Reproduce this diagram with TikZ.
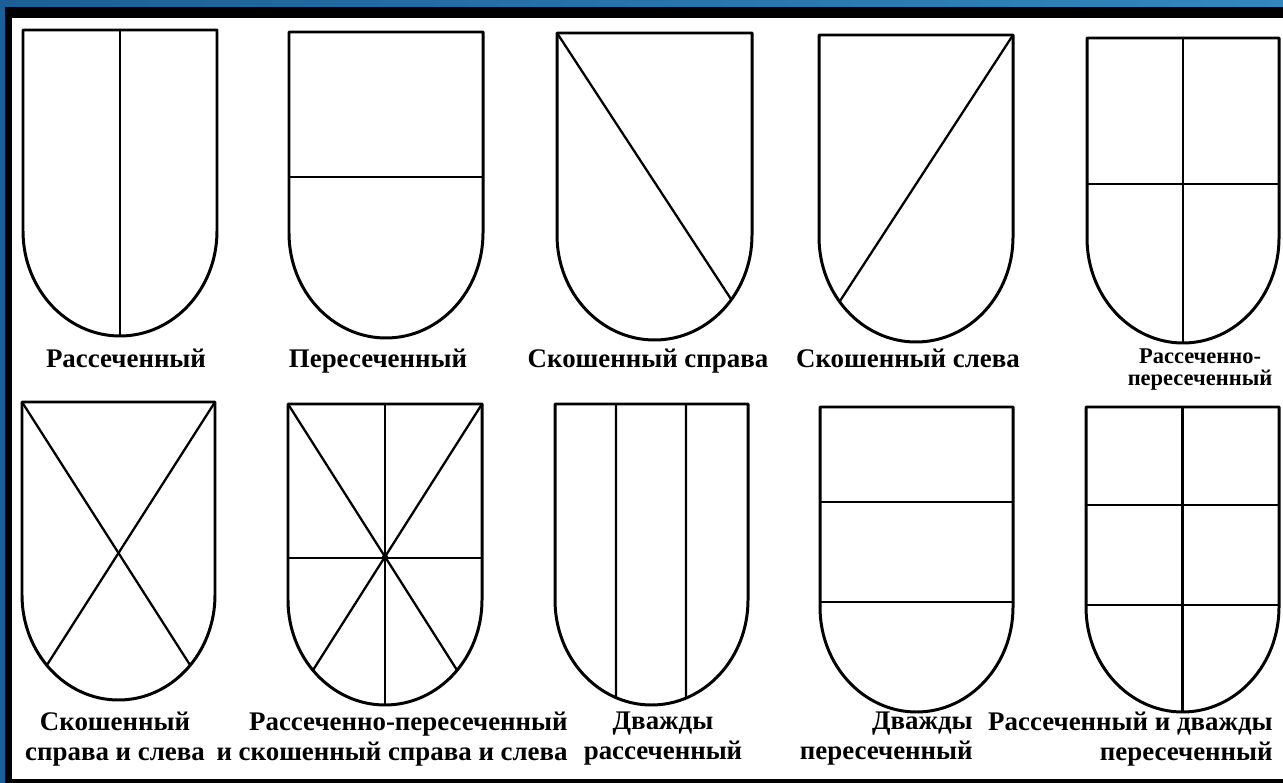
\documentclass[tikz,border=0pt]{standalone}
\usepackage{fontspec}
\setmainfont{Liberation Serif}
\usetikzlibrary{calc}

\definecolor{frameblue}{RGB}{50,135,190}
\definecolor{framedeep}{RGB}{28,95,150}

% shield outline: left, right, top, bottom
\newcommand{\escutcheon}[4]{(#1,#3) -- (#2,#3) -- (#2,#4-105)
  arc[start angle=0, end angle=180, x radius={(#2-#1)/2}, y radius=105] -- cycle}

\begin{document}
\begin{tikzpicture}[x=0.02cm, y=-0.02cm, line join=round,
  shield/.style={line width=1.7pt},
  division/.style={line width=1.3pt},
  caption/.style={font=\bfseries\fontsize{15.3}{17}\selectfont, inner sep=0pt},
  smallcaption/.style={font=\bfseries\fontsize{12.8}{12.5}\selectfont, inner sep=0pt}]
  \useasboundingbox (0,0) rectangle (1283,783);
  % frame
  \shade[left color=framedeep, right color=frameblue] (0,0) rectangle (1283,783);
  \fill (5,7) rectangle (1283,783);
  \fill[white] (12,18) rectangle (1283,779);

  % top row
  \draw[shield] \escutcheon{23}{217}{30}{336};
  \draw[division] (120,30) -- (120,336);

  \draw[shield] \escutcheon{289}{483}{32}{338};
  \draw[division] (289,177) -- (483,177);

  \draw[shield] \escutcheon{557}{752}{33}{340};
  \coordinate (d3) at ($(654.5,235)+(38:97.5 and 105)$);
  \draw[division] (557,33) -- (d3);

  \draw[shield] \escutcheon{819}{1013}{35}{342};
  \coordinate (d4) at ($(916,237)+(142:97 and 105)$);
  \draw[division] (1013,35) -- (d4);

  \draw[shield] \escutcheon{1087}{1279}{38}{343};
  \draw[division] (1183,38) -- (1183,343);
  \draw[division] (1087,184) -- (1279,184);

  % bottom row
  \draw[shield] \escutcheon{22}{215}{402}{700};
  \coordinate (x6a) at ($(118.5,595)+(42:96.5 and 105)$);
  \coordinate (x6b) at ($(118.5,595)+(138:96.5 and 105)$);
  \draw[division] (22,402) -- (x6a);
  \draw[division] (215,402) -- (x6b);

  \draw[shield] \escutcheon{288}{482}{404}{705};
  \coordinate (x7a) at ($(385,600)+(42:97 and 105)$);
  \coordinate (x7b) at ($(385,600)+(138:97 and 105)$);
  \draw[division] (385,404) -- (385,705);
  \draw[division] (288,558) -- (482,558);
  \draw[division] (288,404) -- (x7a);
  \draw[division] (482,404) -- (x7b);
  \fill (385,558) circle (3.5);

  \draw[shield] \escutcheon{555}{748}{404}{705};
  \coordinate (v8a) at ($(651.5,600)+(111.6:96.5 and 105)$);
  \coordinate (v8b) at ($(651.5,600)+(69:96.5 and 105)$);
  \draw[division] (616,404) -- (v8a);
  \draw[division] (686,404) -- (v8b);

  \draw[shield] \escutcheon{820}{1013}{407}{712};
  \draw[division] (820,502) -- (1013,502);
  \draw[division] (820,602) -- (1013,602);

  \draw[shield] \escutcheon{1086}{1279}{407}{712};
  \draw[division] (1182.5,407) -- (1182.5,712);
  \draw[division] (1086,505) -- (1279,505);
  \draw[division] (1086,605) -- (1279,605);

  % captions
  \node[caption, anchor=base] (l1) at (126,368) {Рассеченный};
  \node[caption, anchor=base] (l2) at (378,368) {Пересеченный};
  \node[caption, anchor=base] (l3) at (648,368) {Скошенный справа};
  \node[caption, anchor=base] (l4) at (908,368) {Скошенный слева};
  \node[smallcaption, align=center, anchor=north] (l5) at (1200,348) {Рассеченно-\\пересеченный};
  \node[caption, align=center, anchor=north] (l6) at (115,712) {Скошенный\\справа и слева};
  \node[caption, align=right, anchor=north east] (l7) at (568,712) {Рассеченно-пересеченный\\и скошенный справа и слева};
  \node[caption, align=center, anchor=north] (l8) at (663,712) {Дважды\\рассеченный};
  \node[caption, align=right, anchor=north east] (l9) at (973,712) {Дважды\\пересеченный};
  \node[caption, align=right, anchor=north east] (l10) at (1273,712) {Рассеченный и дважды\\пересеченный};
\end{tikzpicture}
\end{document}
